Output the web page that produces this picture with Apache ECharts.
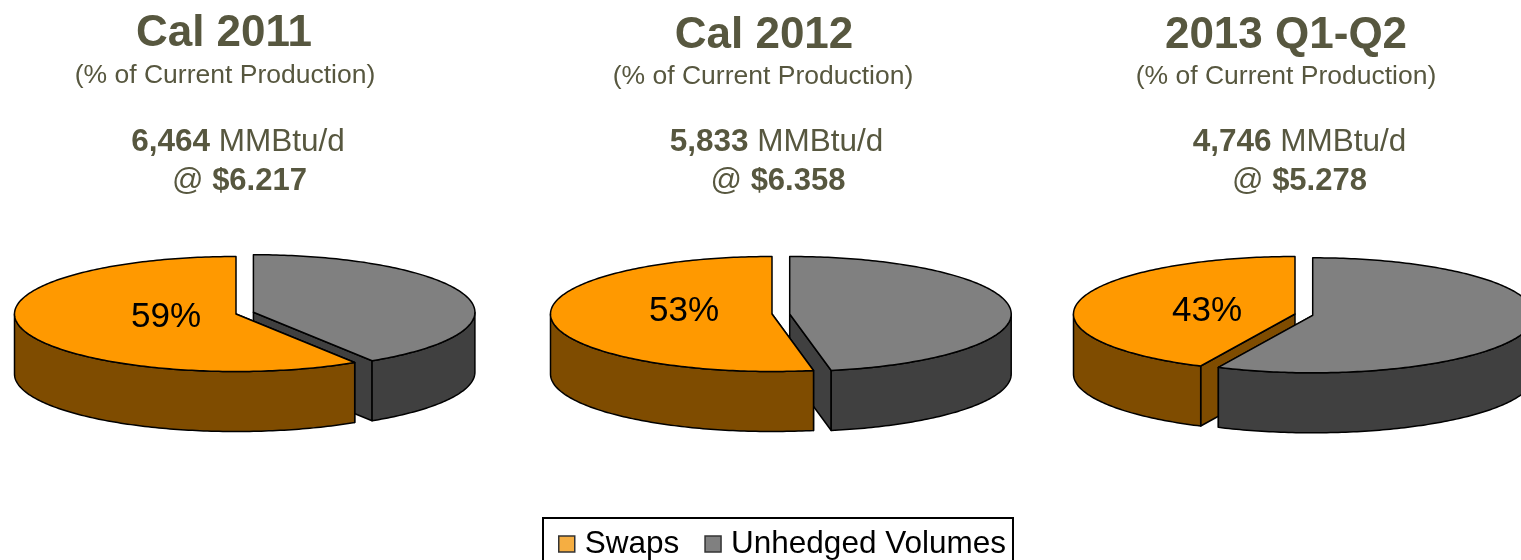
<!DOCTYPE html>
<html>
<head>
<meta charset="utf-8">
<title>Hedged production by period</title>
<style>
  html, body { margin: 0; padding: 0; background: #fff; overflow: hidden; }
  #chart { width: 1521px; height: 560px; }
</style>
<script src="https://cdn.jsdelivr.net/npm/echarts@6/dist/echarts.min.js"></script>
</head>
<body>
<div id="chart"></div>
<script>
// Hedge book values, one entry per period
const periods = ['Cal 2011', 'Cal 2012', '2013 Q1-Q2'];
const swapsShare = [59, 53, 43];
const unhedgedShare = [41, 47, 57];
const volumes = ['6,464', '5,833', '4,746'];
const prices = ['$6.217', '$6.358', '$5.278'];
const subtitle = '(% of Current Production)';
const volumeUnit = 'MMBtu/d';
const seriesNames = ['Swaps', 'Unhedged Volumes'];

// Drawing geometry of the tilted discs
const RX = 221.5, RY = 57.5, DEPTH = 60;
const swapCentres = [[236, 314], [772, 314], [1295, 314]];
const unhedgedCentres = [[253.4, 312.2], [789.7, 314], [1312.7, 315.3]];
const labelAnchors = [[166, 317], [684, 311], [1207, 311]];

const headingX = [224, 764, 1286];
const subX = [225, 763, 1286];
const volumeX = [238, 776.5, 1299.5];
const priceX = [239.5, 778, 1299.5];
const headingY = [34, 36, 36];
const subY = [76, 77, 77];
const volumeY = [142, 142, 142];
const priceY = [181, 181, 181];

const INK = '#57573F';
const palette = {
  swaps: { top: '#FF9900', side: '#7F4C00', swatch: '#F5AE42' },
  unhedged: { top: '#808080', side: '#404040', swatch: '#808080' }
};

function rimPoint(c, deg, drop) {
  const a = deg * Math.PI / 180;
  return [c[0] + RX * Math.sin(a), c[1] - RY * Math.cos(a) + (drop || 0)];
}

function arcPoints(c, from, to, drop) {
  const pts = [];
  const steps = Math.max(2, Math.ceil(Math.abs(to - from)));
  for (let i = 0; i <= steps; i++) {
    pts.push(rimPoint(c, from + (to - from) * i / steps, drop));
  }
  return pts;
}

// One exploded slice: cut face, curved wall, then lid
function sliceElement(c, from, to, cutAngle, colors, inFront, labelText, labelPos) {
  const z = inFront ? 20 : 10;
  const line = { stroke: '#000', lineWidth: 1.5, lineJoin: 'round' };
  const children = [];

  const rimEnd = rimPoint(c, cutAngle);
  children.push({
    type: 'polygon', z2: z,
    shape: { points: [c, rimEnd, [rimEnd[0], rimEnd[1] + DEPTH], [c[0], c[1] + DEPTH]] },
    style: Object.assign({ fill: colors.side }, line)
  });

  const wallFrom = Math.max(from, 90), wallTo = Math.min(to, 270);
  if (wallTo > wallFrom) {
    const upper = arcPoints(c, wallFrom, wallTo, 0);
    const lower = arcPoints(c, wallTo, wallFrom, DEPTH);
    children.push({
      type: 'polygon', z2: z + 1,
      shape: { points: upper.concat(lower) },
      style: Object.assign({ fill: colors.side }, line)
    });
  }

  children.push({
    type: 'polygon', z2: z + 2,
    shape: { points: [c].concat(arcPoints(c, from, to, 0)) },
    style: Object.assign({ fill: colors.top }, line)
  });

  if (labelText) {
    children.push({
      type: 'text', z2: z + 3,
      style: {
        x: labelPos[0], y: labelPos[1], text: labelText,
        fill: '#000', align: 'center', verticalAlign: 'middle',
        font: '35px "Liberation Sans", Arial, sans-serif'
      }
    });
  }
  return { type: 'group', children };
}

function renderSwaps(params, api) {
  const i = params.dataIndex;
  const start = 360 - api.value(0) * 3.6;
  return sliceElement(swapCentres[i], start, 360, start, palette.swaps, start <= 180,
    api.value(0) + '%', labelAnchors[i]);
}

function renderUnhedged(params, api) {
  const i = params.dataIndex;
  const end = api.value(0) * 3.6;
  return sliceElement(unhedgedCentres[i], 0, end, end, palette.unhedged, end > 180, null, null);
}

const font = '"Liberation Sans", Arial, sans-serif';
const titles = [];
periods.forEach((name, i) => {
  titles.push({
    text: name, left: headingX[i], top: headingY[i], textAlign: 'center', textVerticalAlign: 'middle', padding: 0,
    textStyle: { color: INK, fontFamily: font, fontSize: 44, fontWeight: 'bold' }
  });
  titles.push({
    text: subtitle, left: subX[i], top: subY[i], textAlign: 'center', textVerticalAlign: 'middle', padding: 0,
    textStyle: { color: INK, fontFamily: font, fontSize: 26.5, fontWeight: 'normal' }
  });
  titles.push({
    text: '{b|' + volumes[i] + '} ' + volumeUnit, left: volumeX[i], top: volumeY[i], textAlign: 'center', textVerticalAlign: 'middle', padding: 0,
    textStyle: {
      color: INK, fontFamily: font, fontSize: 31.5, fontWeight: 'normal',
      rich: { b: { color: INK, fontFamily: font, fontSize: 31.5, fontWeight: 'bold' } }
    }
  });
  titles.push({
    text: '@ {b|' + prices[i] + '}', left: priceX[i], top: priceY[i], textAlign: 'center', textVerticalAlign: 'middle', padding: 0,
    textStyle: {
      color: INK, fontFamily: font, fontSize: 31, fontWeight: 'normal',
      rich: { b: { color: INK, fontFamily: font, fontSize: 31, fontWeight: 'bold' } }
    }
  });
});

const chart = echarts.init(document.getElementById('chart'), null, { renderer: 'canvas' });
chart.setOption({
  backgroundColor: '#fff',
  animation: false,
  title: titles,
  legend: {
    left: 543, top: 518,
    padding: [10, 7, 12, 15],
    borderColor: '#000', borderWidth: 2,
    itemWidth: 16, itemHeight: 16, itemGap: 25,
    selectedMode: false,
    textStyle: { color: '#000', fontFamily: font, fontSize: 31.5, padding: [0, 0, 10, 5] },
    data: [
      { name: seriesNames[0], icon: 'rect', itemStyle: { color: palette.swaps.swatch, borderColor: '#333', borderWidth: 1.5 } },
      { name: seriesNames[1], icon: 'rect', itemStyle: { color: palette.unhedged.swatch, borderColor: '#333', borderWidth: 1.5 } }
    ]
  },
  series: [
    {
      type: 'custom', name: seriesNames[0], coordinateSystem: 'none', silent: true,
      itemStyle: { color: palette.swaps.top },
      encode: { value: 0 }, data: swapsShare.map(v => [v]), renderItem: renderSwaps
    },
    {
      type: 'custom', name: seriesNames[1], coordinateSystem: 'none', silent: true,
      itemStyle: { color: palette.unhedged.top },
      encode: { value: 0 }, data: unhedgedShare.map(v => [v]), renderItem: renderUnhedged
    }
  ]
});
</script>
</body>
</html>
